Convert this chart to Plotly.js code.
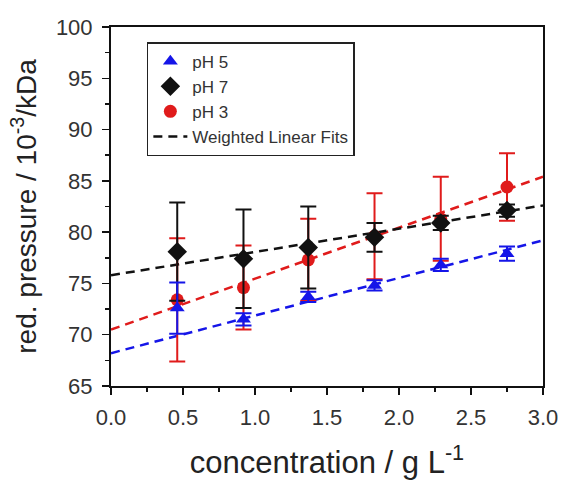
<!DOCTYPE html>
<html>
<head>
<meta charset="utf-8">
<script src="https://cdn.plot.ly/plotly-3.0.1.min.js"></script>
<style>html,body{margin:0;padding:0;background:#fff;}#chart{width:568px;height:485px;}</style>
</head>
<body>
<div id="chart"></div>
<script>
// concentrations (g/L)
const conc = [0.46, 0.92, 1.37, 1.83, 2.29, 2.75];
// pH 5
const ph5 = [72.6, 71.5, 73.7, 74.8, 76.8, 77.9];
const ph5Err = [2.5, 0.6, 0.5, 0.5, 0.6, 0.7];
// pH 7
const ph7 = [78.1, 77.4, 78.5, 79.5, 80.9, 82.1];
const ph7Err = [4.8, 4.8, 4.0, 1.4, 0.7, 0.6];
// pH 3
const ph3 = [73.4, 74.6, 77.3, 79.6, 81.3, 84.4];
const ph3Err = [6.0, 4.1, 4.0, 4.2, 4.1, 3.3];
// weighted linear fits (endpoints)
const fitX = [0, 3];
const fit5 = [68.2, 79.2];
const fit7 = [75.8, 82.6];
const fit3 = [70.5, 85.4];

const BLUE = '#1515e8', BLACK = '#111111', RED = '#e01b1b';
const FONT = 'Liberation Sans, Arial, sans-serif';

function fitTrace(y, color, name, show, rank) {
  return {x: fitX, y: y, mode: 'lines', type: 'scatter', name: name,
    showlegend: show, legendrank: rank,
    line: {color: color, width: 2.5, dash: '9px,6px'}, hoverinfo: 'skip'};
}
function dataTrace(y, err, color, symbol, name, rank) {
  return {x: conc, y: y, mode: 'markers', type: 'scatter', name: name, legendrank: rank,
    marker: {color: color, symbol: symbol, size: symbol === 'diamond' ? 15 : 13},
    error_y: {type: 'data', array: err, visible: true, color: color, thickness: 2, width: 8}};
}

const traces = [
  fitTrace(fit5, BLUE, 'fit pH 5', false, 10),
  fitTrace(fit3, RED, 'fit pH 3', false, 11),
  fitTrace(fit7, BLACK, 'Weighted Linear Fits', true, 5),
  dataTrace(ph3, ph3Err, RED, 'circle', 'pH 3', 3),
  dataTrace(ph7, ph7Err, BLACK, 'diamond', 'pH 7', 2),
  dataTrace(ph5, ph5Err, BLUE, 'triangle-up', 'pH 5', 1)
];

const axisCommon = {
  showline: true, linecolor: '#111', linewidth: 2, mirror: true,
  ticks: 'outside', ticklen: 7, tickwidth: 1.5, tickcolor: '#111',
  showgrid: false, zeroline: false,
  tickfont: {family: FONT, size: 22, color: '#333'}
};

const layout = {
  width: 568, height: 485,
  margin: {l: 111, r: 25, t: 27, b: 99},
  paper_bgcolor: '#fff', plot_bgcolor: '#fff',
  font: {family: FONT},
  xaxis: Object.assign({}, axisCommon, {
    range: [0, 3], dtick: 0.5, tickformat: '.1f', ticklabelstandoff: 4,
    minor: {dtick: 0.25, ticks: 'outside', ticklen: 4, tickwidth: 1.5, tickcolor: '#111'},
    title: {text: 'concentration / g L<sup>-1</sup>', standoff: 22,
      font: {size: 31, color: '#222', family: FONT}}
  }),
  yaxis: Object.assign({}, axisCommon, {
    range: [65, 100], dtick: 5, ticklabelstandoff: 5,
    minor: {dtick: 2.5, ticks: 'outside', ticklen: 4, tickwidth: 1.5, tickcolor: '#111'},
    title: {text: 'red. pressure / 10<sup>-3</sup>/kDa', standoff: 11,
      font: {size: 28, color: '#222', family: FONT}}
  }),
  legend: {
    x: 0.083, y: 0.958, xanchor: 'left', yanchor: 'top',
    bgcolor: '#fff', bordercolor: '#222', borderwidth: 1.5,
    font: {size: 17, color: '#333', family: FONT},
    tracegroupgap: 0, itemwidth: 34
  },
  showlegend: true
};

Plotly.newPlot('chart', traces, layout, {staticPlot: true, displayModeBar: false});
</script>
</body>
</html>
